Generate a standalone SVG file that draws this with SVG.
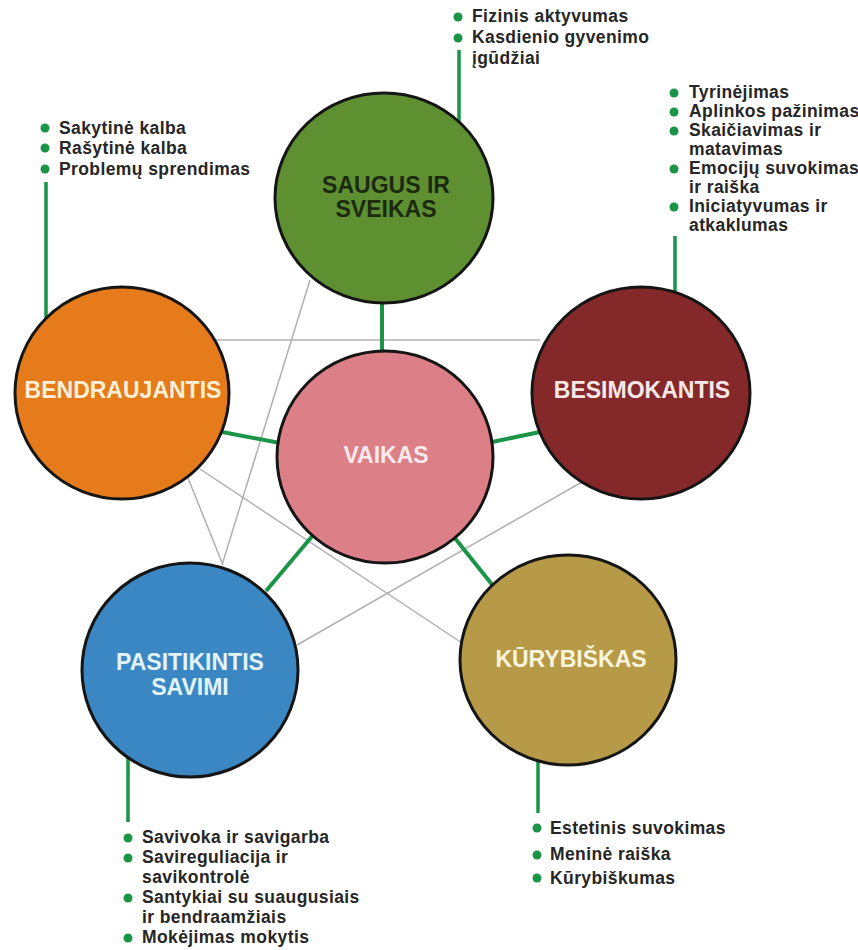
<svg xmlns="http://www.w3.org/2000/svg" width="858" height="950" viewBox="0 0 858 950">
<style>
.grey{stroke:#b0b0b0;stroke-width:1.5;fill:none}
.green{stroke:#1b9448;stroke-width:4;fill:none}
.lead{stroke:#1b9448;stroke-width:3.5;fill:none}
.node{stroke:#151515;stroke-width:3}
.lbl{font-family:"Liberation Sans",Arial,sans-serif;font-weight:bold;font-size:23px;text-anchor:middle}
.item{font-family:"Liberation Sans",Arial,sans-serif;font-weight:bold;font-size:17.5px;letter-spacing:0.4px;fill:#262626}
.dot{fill:#1b9448}
</style>
<rect width="858" height="950" fill="#ffffff"/>
<g id="connectors">
<line class="grey" x1="214" y1="340" x2="540" y2="340"/>
<line class="grey" x1="310" y1="280" x2="222" y2="565"/>
<line class="grey" x1="188" y1="478" x2="223" y2="565"/>
<line class="grey" x1="200" y1="469" x2="462" y2="643"/>
<line class="grey" x1="297" y1="645" x2="582" y2="482"/>
<line class="green" x1="382" y1="300" x2="382" y2="354"/>
<line class="green" x1="222" y1="432" x2="280" y2="443"/>
<line class="green" x1="492" y1="442" x2="540" y2="432"/>
<line class="green" x1="314" y1="534" x2="266" y2="591"/>
<line class="green" x1="454" y1="537" x2="494" y2="587"/>
<line class="lead" x1="459" y1="50" x2="459" y2="124"/>
<line class="lead" x1="46" y1="182" x2="46" y2="322"/>
<line class="lead" x1="675" y1="236" x2="675" y2="293"/>
<line class="lead" x1="128" y1="754" x2="128" y2="822"/>
<line class="lead" x1="538" y1="758" x2="538" y2="813"/>
</g>
<g id="saugus">
<ellipse class="node" cx="384" cy="198" rx="109" ry="105" fill="#5e8f30"/>
<text class="lbl" x="386" y="193" fill="#1c2a12">SAUGUS IR</text>
<text class="lbl" x="386" y="217" fill="#1c2a12">SVEIKAS</text>
</g>
<g id="bendraujantis">
<ellipse class="node" cx="122" cy="393" rx="107" ry="106" fill="#e57b1a"/>
<text class="lbl" x="123" y="398" fill="#fdf0d6">BENDRAUJANTIS</text>
</g>
<g id="besimokantis">
<ellipse class="node" cx="641" cy="393" rx="109" ry="106" fill="#85282a"/>
<text class="lbl" x="642" y="398" fill="#f7e8e8">BESIMOKANTIS</text>
</g>
<g id="vaikas">
<ellipse class="node" cx="385" cy="457" rx="108" ry="106" fill="#dc7f87"/>
<text class="lbl" x="386" y="463" fill="#faeaec">VAIKAS</text>
</g>
<g id="pasitikintis">
<ellipse class="node" cx="190" cy="670" rx="108" ry="107" fill="#3a87c4"/>
<text class="lbl" x="190" y="670" fill="#e3f3fa">PASITIKINTIS</text>
<text class="lbl" x="190" y="695" fill="#e3f3fa">SAVIMI</text>
</g>
<g id="kurybiskas">
<ellipse class="node" cx="568" cy="660" rx="108" ry="105" fill="#b69a48"/>
<text class="lbl" x="571" y="667" fill="#fcf4dc">KŪRYBIŠKAS</text>
</g>
<g id="list-saugus">
<circle class="dot" cx="458" cy="17" r="4.5"/>
<circle class="dot" cx="458" cy="38" r="4.5"/>
<text class="item" x="472" y="22">Fizinis aktyvumas</text>
<text class="item" x="472" y="43">Kasdienio gyvenimo</text>
<text class="item" x="472" y="64">įgūdžiai</text>
</g>
<g id="list-bendraujantis">
<circle class="dot" cx="45" cy="128" r="4.5"/>
<circle class="dot" cx="45" cy="148" r="4.5"/>
<circle class="dot" cx="45" cy="169" r="4.5"/>
<text class="item" x="59" y="134">Sakytinė kalba</text>
<text class="item" x="59" y="154">Rašytinė kalba</text>
<text class="item" x="59" y="175">Problemų sprendimas</text>
</g>
<g id="list-besimokantis">
<circle class="dot" cx="674" cy="93" r="4.5"/>
<circle class="dot" cx="674" cy="112" r="4.5"/>
<circle class="dot" cx="674" cy="131" r="4.5"/>
<circle class="dot" cx="674" cy="169" r="4.5"/>
<circle class="dot" cx="674" cy="207" r="4.5"/>
<text class="item" x="689" y="98">Tyrinėjimas</text>
<text class="item" x="689" y="117">Aplinkos pažinimas</text>
<text class="item" x="689" y="136">Skaičiavimas ir</text>
<text class="item" x="689" y="155">matavimas</text>
<text class="item" x="689" y="174">Emocijų suvokimas</text>
<text class="item" x="689" y="193">ir raiška</text>
<text class="item" x="689" y="212">Iniciatyvumas ir</text>
<text class="item" x="689" y="231">atkaklumas</text>
</g>
<g id="list-pasitikintis">
<circle class="dot" cx="128" cy="838" r="4.5"/>
<circle class="dot" cx="128" cy="858" r="4.5"/>
<circle class="dot" cx="128" cy="898" r="4.5"/>
<circle class="dot" cx="128" cy="938" r="4.5"/>
<text class="item" x="142" y="843">Savivoka ir savigarba</text>
<text class="item" x="142" y="863">Savireguliacija ir</text>
<text class="item" x="142" y="883">savikontrolė</text>
<text class="item" x="142" y="903">Santykiai su suaugusiais</text>
<text class="item" x="142" y="923">ir bendraamžiais</text>
<text class="item" x="142" y="943">Mokėjimas mokytis</text>
</g>
<g id="list-kurybiskas">
<circle class="dot" cx="537" cy="828" r="4.5"/>
<circle class="dot" cx="537" cy="855" r="4.5"/>
<circle class="dot" cx="537" cy="878" r="4.5"/>
<text class="item" x="550" y="834">Estetinis suvokimas</text>
<text class="item" x="550" y="860">Meninė raiška</text>
<text class="item" x="550" y="884">Kūrybiškumas</text>
</g>
</svg>
